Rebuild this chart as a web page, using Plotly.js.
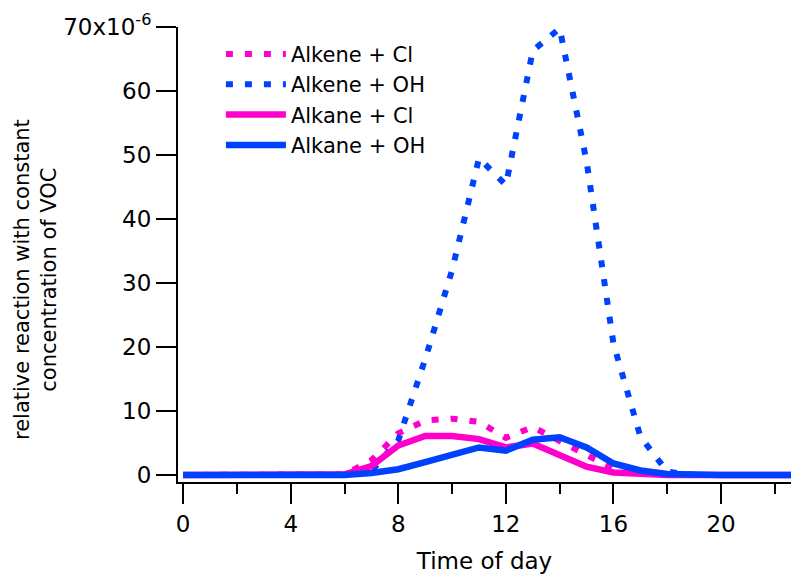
<!DOCTYPE html>
<html>
<head>
<meta charset="utf-8">
<script src="https://cdn.plot.ly/plotly-3.0.1.min.js"></script>
<style>html,body{margin:0;padding:0;background:#fff;}#chart{width:791px;height:576px;}</style>
</head>
<body>
<div id="chart"></div>
<script>
var hours = [0,1,2,3,4,5,6,7,8,9,10,11,12,13,14,15,16,17,18,19,20,21,22,23,24];
var alkeneCl = [0,0,0,0,0,0,0.1,2.3,6.5,8.5,8.8,8.3,5.8,7.5,5.2,3.1,1.0,0.2,0,0,0,0,0,0,0];
var alkeneOH = [0,0,0,0,0,0,0,0.6,5.4,18.1,32.0,49.5,45.3,66.3,69.8,49.0,20.5,6.0,0.5,0,0,0,0,0,0];
var alkaneCl = [0,0,0,0,0,0,0.1,1.4,4.6,6.1,6.1,5.6,4.3,4.9,3.0,1.3,0.4,0.1,0,0,0,0,0,0,0];
var alkaneOH = [0,0,0,0,0,0,0,0.3,0.9,2.0,3.1,4.3,3.8,5.5,5.9,4.3,1.8,0.7,0.15,0,0,0,0,0,0];
var seriesNames = ['Alkene + Cl','Alkene + OH','Alkane + Cl','Alkane + OH'];
var yTickVals = [0,10,20,30,40,50,60,70];
var yTickText = ['0','10','20','30','40','50','60','70x10<sup>-6</sup>'];
var xTickVals = [0,4,8,12,16,20];
var xTitle = 'Time of day';
var yTitle = 'relative reaction with constant<br>concentration of VOC';

var pink = 'rgb(255,0,204)';
var blue = 'rgb(0,65,255)';
var dotDash = '7px,12px';

var traces = [
  {x: hours, y: alkeneCl, name: seriesNames[0], mode: 'lines', line: {color: pink, width: 6, dash: dotDash}},
  {x: hours, y: alkeneOH, name: seriesNames[1], mode: 'lines', line: {color: blue, width: 6, dash: dotDash}},
  {x: hours, y: alkaneCl, name: seriesNames[2], mode: 'lines', line: {color: pink, width: 6.5}},
  {x: hours, y: alkaneOH, name: seriesNames[3], mode: 'lines', line: {color: blue, width: 6.5}}
];

var font = 'DejaVu Sans, Arial, sans-serif';
var layout = {
  width: 791, height: 576,
  margin: {l: 178, r: 0, t: 27, b: 94, pad: 0},
  paper_bgcolor: '#fff', plot_bgcolor: '#fff',
  font: {family: font, color: '#000', size: 22},
  showlegend: true,
  legend: {x: 0.07, y: 0.985, xanchor: 'left', yanchor: 'top', bgcolor: 'rgba(0,0,0,0)',
           font: {family: font, size: 21, color: '#000'}, itemwidth: 60, tracegroupgap: 0},
  xaxis: {
    range: [-0.19, 22.6], tickvals: xTickVals, ticks: 'outside', ticklen: 20, tickwidth: 2, tickcolor: '#000',
    showline: true, linewidth: 2, linecolor: '#000', showgrid: false, zeroline: false,
    minor: {dtick: 2, tick0: 0, ticks: 'outside', ticklen: 10, tickwidth: 2, tickcolor: '#000', showgrid: false},
    tickfont: {family: font, size: 23, color: '#000'},
    title: {text: xTitle, font: {family: font, size: 23, color: '#000'}, standoff: 17}
  },
  yaxis: {
    range: [-1.1, 70], tickvals: yTickVals, ticktext: yTickText, ticks: 'outside', ticklen: 20, tickwidth: 2, tickcolor: '#000',
    showline: true, linewidth: 2, linecolor: '#000', showgrid: false, zeroline: false,
    tickfont: {family: font, size: 23, color: '#000'}
  },
  annotations: [{
    text: yTitle, xref: 'paper', yref: 'paper', x: -0.2316, y: 0.444,
    xanchor: 'center', yanchor: 'middle', textangle: -90, showarrow: false,
    font: {family: font, size: 21, color: '#000'}
  }]
};

Plotly.newPlot('chart', traces, layout, {displayModeBar: false, staticPlot: true});
</script>
</body>
</html>
